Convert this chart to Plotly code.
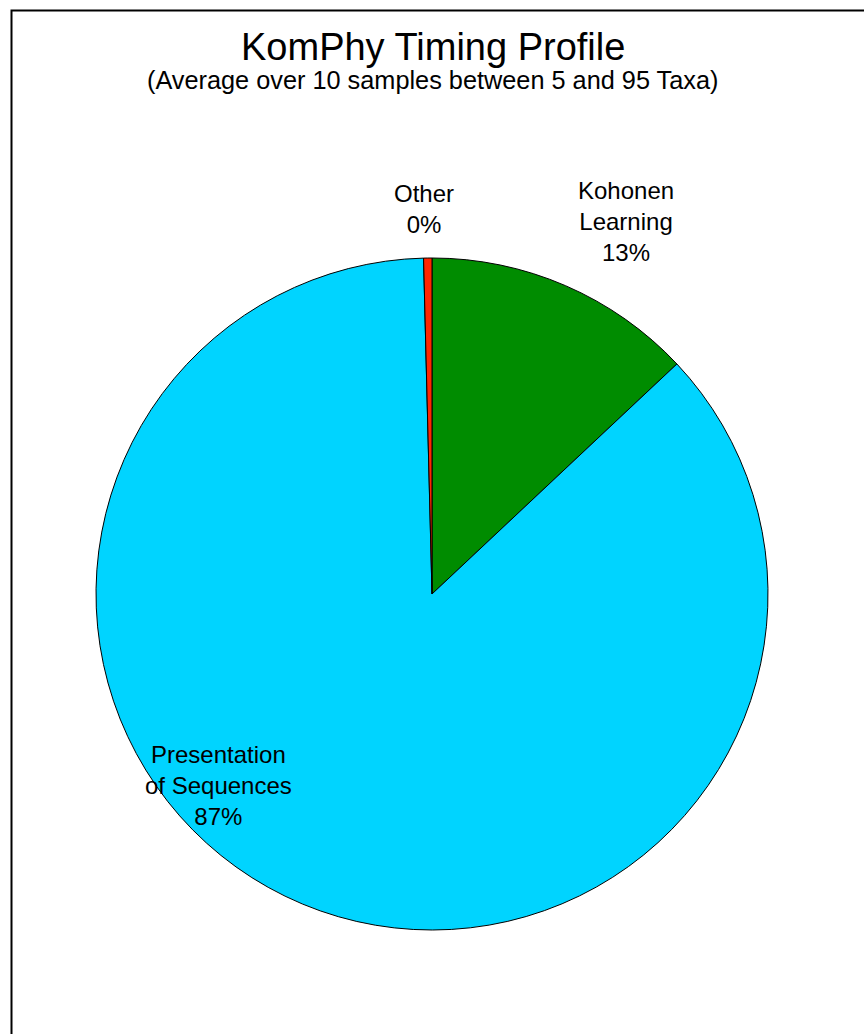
import plotly.graph_objects as go

# Share of total run time per phase (percent)
phases = ["Kohonen<br>Learning", "Presentation<br>of Sequences", "Other"]
shares = [13.0, 86.6, 0.4]
colors = ["#008C00", "#00D4FF", "#FF2600"]

# label block centres (pixels) for each phase
label_xy = [(626, 222), (218, 785), (424, 209)]

FONT = "Arial, Liberation Sans, sans-serif"

W, H = 864, 1034
L, R, T, B = 96, 96, 258, 104
PW, PH = W - L - R, H - T - B


def px(xpix):
    return (xpix - L) / PW


def py(ypix):
    return (H - B - ypix) / PH


fig = go.Figure(
    go.Pie(
        labels=[p.replace("<br>", " ") for p in phases],
        values=shares,
        sort=False,
        direction="clockwise",
        rotation=0,
        marker=dict(colors=colors, line=dict(color="#000000", width=1)),
        textinfo="none",
        showlegend=False,
        hoverinfo="label+percent",
    )
)

fig.update_layout(
    width=W,
    height=H,
    margin=dict(l=L, r=R, t=T, b=B),
    paper_bgcolor="#FFFFFF",
    plot_bgcolor="#FFFFFF",
    font=dict(family=FONT, color="#000000"),
)

# slice labels: name and rounded share
total = sum(shares)
for name, val, (lx, ly) in zip(phases, shares, label_xy):
    fig.add_annotation(text=f"{name}<br>{round(100 * val / total)}%",
                       xref="paper", yref="paper", x=px(lx), y=py(ly),
                       xanchor="center", yanchor="middle", showarrow=False,
                       align="center",
                       font=dict(size=24, family=FONT, color="#000"))

fig.add_annotation(text="KomPhy Timing Profile", xref="paper", yref="paper",
                   x=px(433), y=py(47), xanchor="center", yanchor="middle",
                   showarrow=False, font=dict(size=38, family=FONT, color="#000"))
fig.add_annotation(text="(Average over 10 samples between 5 and 95 Taxa)",
                   xref="paper", yref="paper", x=px(432), y=py(80),
                   xanchor="center", yanchor="middle", showarrow=False,
                   font=dict(size=25.3, family=FONT, color="#000"))

# chart frame
fig.add_shape(type="rect", xref="paper", yref="paper",
              x0=px(11.5), x1=px(880), y0=py(1050), y1=py(10.5),
              line=dict(color="#000000", width=2), fillcolor="rgba(0,0,0,0)",
              layer="below")

fig.write_html("out.html")
